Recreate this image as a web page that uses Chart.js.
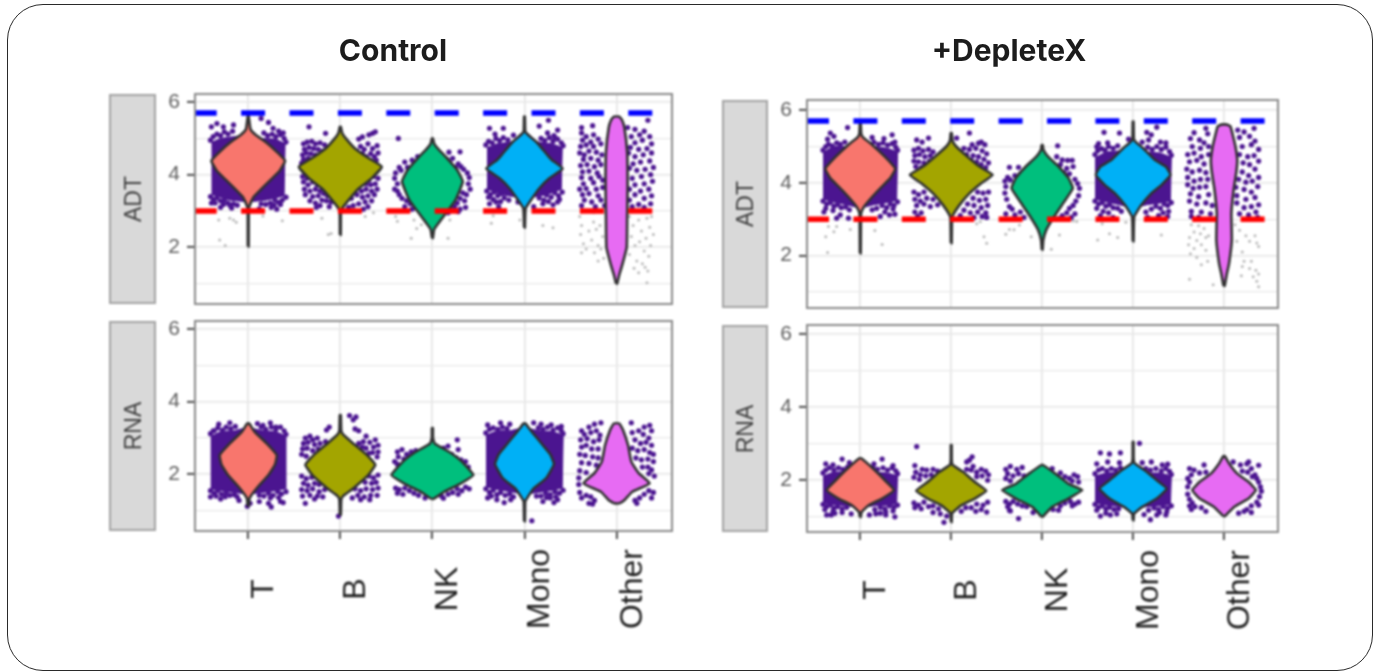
<!DOCTYPE html>
<html>
<head>
<meta charset="utf-8">
<title>Control vs +DepleteX</title>
<script src="https://cdn.jsdelivr.net/npm/chart.js@4"></script>
<style>
html, body { margin: 0; padding: 0; background: #fff; }
body { width: 1381px; height: 672px; position: relative; overflow: hidden; font-family: "Liberation Sans", sans-serif; }
#frame { position: absolute; left: 7px; top: 4px; width: 1364px; height: 665px; border: 1.5px solid #2a2a2a; border-radius: 36px; }
.title { position: absolute; top: 32px; width: 300px; text-align: center; font: 700 30px Inter, sans-serif; color: #1c1c1c; filter: blur(0.4px); }
.strip { position: absolute; box-sizing: border-box; background: #d9d9d9; border: 2px solid #a3a3a3; filter: blur(0.8px); }
.strip span { position: absolute; left: 50%; top: 50%; transform: translate(-50%, -50%) rotate(-90deg); font-size: 23px; color: #404040; }
canvas { position: absolute; filter: blur(0.8px); }
</style>
</head>
<body>
<div id="frame"></div>
<div class="title" style="left:243px">Control</div>
<div class="title" style="left:859px">+DepleteX</div>
<script>
const categories = ['T', 'B', 'NK', 'Mono', 'Other'];
const violinColors = ['#F8766D', '#A3A500', '#00BF7D', '#00B0F6', '#E76BF3'];
const yTicks = [1, 2, 3, 4, 5, 6];
const yLabelled = [2, 4, 6];
const xTicks = [1, 2, 3, 4, 5];
const upperCut = [5.7];
const lowerCut = [3];

// violin outlines: [y, half width]
const ctrlAdtT = [[2.02,.004],[3.07,.006],[3.21,.025],[3.39,.06],[3.6,.14],[3.85,.24],[4.1,.34],[4.38,.4],[4.63,.31],[4.9,.19],[5.1,.08],[5.25,.025],[5.62,.004]];
const ctrlAdtB = [[2.34,.004],[2.95,.006],[3.07,.02],[3.3,.09],[3.62,.2],[3.9,.34],[4.22,.45],[4.5,.28],[4.72,.16],[5,.06],[5.15,.02],[5.32,.005]];
const ctrlAdtNK = [[2.25,.004],[2.5,.02],[2.68,.07],[2.95,.15],[3.3,.25],[3.81,.33],[4.13,.27],[4.45,.16],[4.72,.06],[4.85,.02],[5,.005]];
const ctrlAdtMono = [[2.54,.004],[3.07,.012],[3.3,.07],[3.62,.16],[3.9,.27],[4.17,.415],[4.4,.3],[4.54,.25],[4.9,.13],[5.12,.03],[5.2,.008],[5.6,.004]];
const ctrlAdtOther = [[1,.006],[1.25,.03],[1.5,.06],[2,.11],[2.8,.115],[3.72,.12],[4.63,.115],[5.3,.085],[5.5,.06],[5.6,.03]];
const ctrlRnaT = [[1.13,.006],[1.34,.015],[1.61,.09],[1.98,.22],[2.26,.29],[2.53,.31],[2.85,.2],[3.17,.07],[3.4,.01]];
const ctrlRnaB = [[.88,.005],[1.3,.01],[1.4,.03],[1.61,.14],[1.94,.29],[2.26,.38],[2.53,.29],[2.85,.14],[3.1,.03],[3.2,.01],[3.63,.005]];
const ctrlRnaNK = [[1.32,.01],[1.52,.13],[1.75,.31],[1.98,.445],[2.35,.32],[2.62,.18],[2.85,.025],[3,.006],[3.27,.005]];
const ctrlRnaMono = [[.7,.004],[1.25,.008],[1.35,.03],[1.61,.1],[1.89,.235],[2.28,.32],[2.55,.28],[2.8,.2],[3.17,.08],[3.4,.01]];
const ctrlRnaOther = [[1.2,.03],[1.3,.09],[1.52,.17],[1.75,.36],[2.03,.24],[2.35,.16],[2.8,.125],[3.22,.07],[3.4,.03]];
const depAdtT = [[2.06,.004],[3.15,.008],[3.3,.03],[3.44,.07],[3.8,.2],[4.13,.33],[4.39,.385],[4.72,.27],[5.05,.13],[5.25,.03],[5.35,.01],[5.64,.004]];
const depAdtB = [[2.34,.004],[3,.008],[3.12,.02],[3.39,.09],[3.71,.2],[3.99,.33],[4.22,.455],[4.45,.31],[4.72,.18],[5,.055],[5.15,.015],[5.37,.005]];
const depAdtNK = [[2.16,.004],[2.43,.012],[2.71,.045],[3.03,.12],[3.44,.23],[3.85,.337],[4.13,.29],[4.45,.18],[4.72,.065],[4.9,.015],[5.04,.005]];
const depAdtMono = [[2.39,.004],[3.07,.012],[3.39,.09],[3.71,.2],[3.94,.31],[4.22,.41],[4.45,.36],[4.63,.24],[4.95,.11],[5.12,.03],[5.2,.008],[5.68,.004]];
const depAdtOther = [[1.17,.006],[1.5,.03],[1.79,.055],[2.43,.085],[3.17,.08],[3.81,.105],[4.3,.135],[4.63,.145],[5,.125],[5.37,.09],[5.55,.07],[5.6,.03]];
const depRnaT = [[.99,.004],[1.13,.015],[1.31,.09],[1.5,.24],[1.73,.37],[2,.27],[2.32,.14],[2.6,.01]];
const depRnaB = [[.85,.004],[1.1,.01],[1.31,.11],[1.5,.26],[1.71,.385],[1.95,.26],[2.23,.13],[2.42,.015],[2.55,.005],[2.96,.004]];
const depRnaNK = [[1,.006],[1.27,.11],[1.5,.29],[1.73,.44],[1.9,.29],[2.18,.145],[2.41,.012]];
const depRnaMono = [[.9,.004],[1.08,.01],[1.27,.1],[1.5,.26],[1.77,.37],[2,.26],[2.27,.13],[2.47,.015],[2.6,.005],[3.05,.004]];
const depRnaOther = [[1.02,.01],[1.27,.11],[1.5,.27],[1.73,.35],[1.95,.27],[2.18,.145],[2.46,.055],[2.66,.008]];

// solid part of the densest clouds: [offset from category, y]
const ctrlAdtTCore = [[-.39,3.45],[-.3,3.38],[-.2,3.3],[0,3.25],[.2,3.3],[.3,3.36],[.39,3.42],[.4,4.85],[.3,4.98],[.15,5],[0,5.1],[-.15,5.05],[-.3,5],[-.39,4.9]];
const ctrlAdtMonoCore = [[-.4,3.6],[-.3,3.5],[-.18,3.42],[0,3.35],[.18,3.42],[.3,3.5],[.4,3.6],[.41,4.75],[.3,4.85],[.15,4.9],[0,5],[-.15,4.9],[-.3,4.85],[-.4,4.75]];
const ctrlRnaTCore = [[-.4,1.6],[-.3,1.55],[-.15,1.5],[0,1.45],[.15,1.5],[.3,1.55],[.4,1.6],[.41,3.05],[.3,3.18],[.15,3.2],[0,3.3],[-.15,3.2],[-.3,3.18],[-.4,3.05]];
const ctrlRnaMonoCore = [[-.41,1.65],[-.3,1.58],[-.15,1.52],[0,1.45],[.15,1.5],[.3,1.56],[.41,1.62],[.42,3.08],[.3,3.18],[.15,3.2],[0,3.3],[-.15,3.2],[-.3,3.2],[-.41,3.08]];
const depAdtTCore = [[-.4,3.55],[-.3,3.48],[-.15,3.4],[0,3.3],[.15,3.4],[.3,3.46],[.4,3.52],[.41,4.85],[.3,4.95],[.15,5],[0,5.1],[-.15,5],[-.3,5],[-.4,4.85]];
const depAdtMonoCore = [[-.41,3.55],[-.3,3.48],[-.15,3.4],[0,3.3],[.15,3.4],[.3,3.45],[.41,3.5],[.42,4.7],[.3,4.82],[.15,4.85],[0,5],[-.15,4.88],[-.3,4.85],[-.41,4.7]];
const depRnaTCore = [[-.4,1.38],[-.3,1.34],[-.15,1.3],[0,1.25],[.15,1.3],[.3,1.32],[.4,1.36],[.41,2.12],[.3,2.2],[.15,2.22],[0,2.35],[-.15,2.24],[-.3,2.22],[-.4,2.12]];
const depRnaMonoCore = [[-.41,1.38],[-.3,1.32],[-.15,1.28],[0,1.22],[.15,1.28],[.3,1.3],[.41,1.34],[.42,2.12],[.3,2.2],[.15,2.2],[0,2.3],[-.15,2.22],[-.3,2.2],[-.41,2.12]];

// single cells: [offset from category, y]
const ctrlAdtTDots = [[-.4,5.32],[-.34,5.41],[.14,5.55],[.22,5.44],[-.16,5.37],[-.27,5.32],[.27,5.28],[.33,5.2],[-.4,3.22],[-.18,3.08],[.31,3.05],[.25,3.1],[-.3,3.1],[.12,3.06],[-.41,3.4],[-.38,3.32],[-.34,3.36],[-.3,3.28],[-.36,3.22],[-.26,3.3],[-.22,3.22],[-.27,3.18],[-.2,3.16],[-.16,3.2],[-.12,3.16],[.41,3.38],[.37,3.3],[.33,3.24],[.29,3.3],[.24,3.22],[.19,3.18],[.14,3.2],[.35,3.18],[.28,3.16],[-.41,4.95],[-.38,5.05],[-.34,5.12],[-.3,5.08],[-.26,5.18],[-.22,5.12],[-.17,5.2],[.17,5.15],[.21,5.08],[.26,5.12],[.3,5.05],[.35,5.1],[.39,5],[.41,4.9],[.38,5.15]];
const ctrlAdtTGrey = [[-.32,2.75],[-.2,2.8],[-.13,2.69],[.16,2.86],[.37,2.73],[-.31,2.2],[-.25,2.05],[-.16,2.75]];
const ctrlAdtBDots = [[-.34,5.32],[-.16,5.14],[.38,5.18],[.31,5.1],[.24,5.04],[.35,5.14],[.2,4.98],[-.4,4.85],[-.36,4.9],[-.31,4.92],[-.27,4.85],[-.22,4.88],[-.17,4.82],[-.39,4.7],[-.34,4.75],[-.29,4.72],[-.24,4.7],[-.19,4.65],[-.14,4.72],[-.41,4.55],[-.37,4.6],[-.32,4.58],[-.27,4.55],[-.22,4.52],[-.4,4.42],[-.35,4.45],[-.3,4.4],[-.42,4.32],[.4,4.8],[.35,4.72],[.3,4.85],[.26,4.7],[.22,4.78],[.18,4.65],[.41,4.6],[.37,4.5],[.33,4.58],[.28,4.5],[.24,4.58],[.39,4.4],[-.41,3.95],[-.36,3.9],[-.31,3.95],[-.4,3.8],[-.35,3.72],[-.3,3.8],[-.25,3.72],[-.39,3.6],[-.33,3.55],[-.27,3.6],[-.22,3.55],[-.38,3.45],[-.3,3.4],[-.24,3.42],[-.18,3.48],[-.14,3.42],[-.33,3.28],[-.27,3.22],[-.2,3.3],[-.15,3.28],[-.1,3.25],[-.22,3.15],[-.12,3.12],[-.26,3.1],[.41,3.9],[.36,3.95],[.31,3.85],[.38,3.75],[.33,3.72],[.28,3.75],[.4,3.6],[.34,3.55],[.28,3.6],[.23,3.55],[.37,3.45],[.3,3.42],[.24,3.38],[.18,3.45],[.12,3.35],[.34,3.28],[.27,3.25],[.2,3.2],[.14,3.15],[.3,3.12],[.25,3.05],[.09,3.1]];
const ctrlAdtBGrey = [[-.13,2.35],[-.1,2.38],[.27,2.85],[.36,2.95],[-.2,2.8]];
const ctrlAdtNKDots = [[-.37,5],[.18,4.62],[.3,4.63],[-.36,4.2],[-.3,4.35],[-.22,4.4],[-.16,4.5],[-.4,4.05],[-.34,4.12],[-.27,4.2],[-.2,4.28],[.16,4.42],[.22,4.45],[.28,4.3],[.34,4.15],[.38,4.05],[.4,3.92],[.25,4.2],[.31,4.22],[.19,4.33],[-.41,3.9],[-.38,3.75],[-.41,3.6],[-.36,3.45],[-.33,3.35],[-.28,3.28],[-.38,3.55],[-.24,3.2],[-.3,3.12],[-.22,3.05],[-.16,3.1],[-.12,2.98],[.39,3.75],[.41,3.6],[.37,3.45],[.33,3.5],[.3,3.35],[.35,3.28],[.27,3.22],[.24,3.12],[.3,3.05],[.19,3.05],[.36,3.1],[.28,2.98],[.17,2.95]];
const ctrlAdtNKGrey = [[-.4,2.85],[-.38,2.72],[-.2,2.75],[-.17,2.52],[-.23,2.25],[.17,2.25],[.19,2.75],[-.12,2.62]];
const ctrlAdtMonoDots = [[-.38,5.28],[-.23,5.28],[.16,5.34],[.26,5.5],[.36,5.23],[-.12,5.09],[-.32,5.12],[.25,5.15],[.32,5.08],[-.38,3.2],[-.31,3.25],[-.07,3.25],[.1,3.12],[.31,3.17],[.36,3.25],[-.28,3.12],[.2,3.2],[-.41,3.55],[-.37,3.45],[-.33,3.52],[-.39,3.38],[-.29,3.42],[-.25,3.48],[-.34,3.32],[-.22,3.36],[-.17,3.3],[-.26,3.26],[.41,3.52],[.37,3.42],[.33,3.5],[.29,3.38],[.24,3.44],[.38,3.32],[.21,3.3],[.16,3.36],[.26,3.26],[-.42,4.82],[-.39,4.92],[-.35,4.88],[-.31,5],[-.27,4.94],[-.23,5.02],[-.18,4.96],[.18,5],[.22,4.94],[.27,5.02],[.31,4.92],[.36,4.98],[.4,4.88],[.42,4.8],[.33,5.02]];
const ctrlAdtMonoGrey = [[-.34,2.87],[-.36,2.66],[-.05,2.75],[.2,2.6],[.31,2.54]];
const ctrlAdtOtherDots = [[-.38,5.3],[-.26,5.35],[-.38,5.15],[-.33,5.05],[-.25,5.1],[-.37,4.95],[-.28,4.9],[-.2,4.98],[-.39,4.78],[-.33,4.82],[-.25,4.78],[-.17,4.85],[-.4,4.6],[-.35,4.55],[-.3,4.65],[-.22,4.62],[-.16,4.55],[-.36,4.42],[-.28,4.45],[-.2,4.4],[-.39,4.25],[-.32,4.28],[-.24,4.22],[-.17,4.28],[-.37,4.08],[-.3,4.1],[-.21,4.05],[-.38,3.92],[-.28,3.9],[-.19,3.95],[-.15,3.85],[-.36,3.75],[-.25,3.78],[-.4,3.6],[-.33,3.62],[-.22,3.6],[-.15,3.65],[-.37,3.45],[-.3,3.48],[-.2,3.42],[-.35,3.3],[-.27,3.25],[-.17,3.3],[-.38,3.15],[-.23,3.12],[-.13,3.15],[.34,5.5],[.12,5.3],[.2,5.25],[.3,5.2],[.36,5.05],[.25,5.1],[.16,5.05],[.38,4.85],[.28,4.95],[.2,4.88],[.33,4.72],[.24,4.7],[.15,4.75],[.38,4.6],[.29,4.55],[.2,4.5],[.13,4.6],[.36,4.38],[.26,4.35],[.18,4.3],[.4,4.2],[.31,4.15],[.22,4.12],[.14,4.18],[.37,4],[.27,3.95],[.17,3.9],[.39,3.82],[.3,3.75],[.2,3.72],[.14,3.6],[.35,3.6],[.26,3.55],[.38,3.42],[.2,3.45],[.3,3.35],[.14,3.3],[.37,3.2],[.24,3.18],[.3,3.1],[.17,3.12]];
const ctrlAdtOtherGrey = [[-.4,2.85],[-.38,2.6],[-.39,2.35],[-.36,2.1],[-.33,1.95],[-.38,1.85],[-.3,2.45],[-.25,2.7],[-.22,2.5],[-.27,2.2],[-.2,2.05],[-.24,1.85],[-.18,2.6],[-.15,2.3],[-.17,1.95],[-.2,1.62],[-.14,1.7],[-.25,2.95],[.14,2.85],[.18,2.6],[.16,2.3],[.2,2.05],[.14,1.8],[.22,1.62],[.24,2.75],[.27,2.45],[.25,2.15],[.3,1.9],[.28,1.55],[.33,2.8],[.36,2.55],[.32,2.25],[.37,2.05],[.35,1.75],[.31,1.45],[.38,2.85],[.4,2.35],[.34,1.35],[.33,1.02],[.24,1.3],[.19,1.42]];
const depAdtTDots = [[-.33,5.37],[-.14,5.52],[.35,5.32],[-.29,5.28],[.13,5.25],[.26,5.22],[-.36,5.2],[-.26,3.03],[-.13,3.03],[-.4,3.2],[-.22,3.12],[.32,3.12],[.22,3.08],[.38,3.14],[-.41,3.5],[-.37,3.42],[-.33,3.46],[-.29,3.36],[-.38,3.3],[-.25,3.4],[-.21,3.32],[-.3,3.24],[-.16,3.34],[-.12,3.26],[.41,3.48],[.37,3.38],[.33,3.42],[.29,3.32],[.24,3.38],[.36,3.28],[.18,3.3],[.13,3.26],[.27,3.2],[-.41,4.9],[-.38,5],[-.35,5.06],[-.31,5.02],[-.26,5.1],[-.22,5.06],[-.17,5.12],[.15,5.12],[.2,5.06],[.25,5.1],[.3,5.04],[.35,5.08],[.39,4.98],[.41,4.9],[.38,5.12]];
const depAdtTGrey = [[-.35,2.8],[-.26,2.8],[-.38,2.52],[-.29,2.66],[-.11,2.72],[.16,2.69],[.24,2.31],[-.36,2.09]];
const depAdtBDots = [[-.38,5.18],[-.32,5.12],[-.25,5.23],[.2,5.37],[.06,5.23],[.23,5.05],[.3,5.09],[.37,5.05],[.33,5.12],[-.41,4.9],[-.36,4.95],[-.31,4.88],[-.25,4.92],[-.2,4.85],[-.4,4.75],[-.35,4.78],[-.29,4.72],[-.23,4.75],[-.17,4.68],[-.41,4.6],[-.36,4.58],[-.3,4.55],[-.24,4.6],[-.39,4.45],[-.33,4.42],[.14,4.95],[.2,4.92],[.27,4.95],[.34,4.88],[.39,4.8],[.17,4.78],[.24,4.75],[.3,4.72],[.36,4.65],[.41,4.55],[.22,4.62],[.28,4.58],[.33,4.5],[.38,4.42],[-.41,3.75],[-.36,3.68],[-.3,3.75],[-.4,3.55],[-.34,3.5],[-.27,3.58],[-.2,3.55],[-.38,3.38],[-.3,3.42],[-.23,3.35],[-.15,3.4],[-.4,3.2],[-.37,3.08],[-.33,3.18],[-.38,3],[.41,3.75],[.35,3.72],[.29,3.75],[.38,3.55],[.31,3.52],[.24,3.58],[.4,3.38],[.33,3.32],[.25,3.38],[.18,3.42],[.38,3.18],[.29,3.2],[.21,3.18],[.14,3.25],[.39,3.05],[.34,3.08],[.25,3.05],[.1,3.1]];
const depAdtBGrey = [[.32,2.93],[.36,2.52],[.39,2.34],[.28,2.88]];
const depAdtNKDots = [[.17,5.02],[-.36,4.43],[-.26,4.43],[.22,4.63],[.28,4.62],[.33,4.62],[.2,4.5],[.27,4.4],[.34,4.45],[.16,4.72],[-.17,4.35],[-.3,4.2],[-.38,4.15],[-.24,4.25],[.3,4.25],[.36,4.1],[.24,4.28],[.39,3.98],[.41,3.85],[-.41,4.05],[-.35,4.08],[-.4,3.9],[-.41,3.72],[-.39,3.55],[-.36,3.35],[-.4,3.15],[-.33,3.28],[-.3,3.12],[-.24,3.2],[-.2,3.05],[.4,3.65],[.37,3.5],[.34,3.38],[.3,3.3],[.36,3.15],[.27,3.18],[.32,3.05],[.22,3.1],[.18,3.02]];
const depAdtNKGrey = [[-.4,2.59],[-.31,2.71],[-.12,2.52],[.19,2.57],[.1,2.18],[.38,2.94],[-.25,2.84],[-.36,2.72],[.34,2.95]];
const depAdtMonoDots = [[-.32,5.39],[-.15,5.37],[.15,5.39],[.26,5.53],[.2,5.32],[-.28,5.1],[.17,5.18],[.3,5.12],[.36,5.1],[-.38,5.08],[-.05,5.2],[.1,5.12],[-.36,3.1],[-.22,3.05],[.16,3.05],[.28,3.1],[.38,3.08],[-.42,3.5],[-.38,3.42],[-.34,3.46],[-.3,3.36],[-.4,3.3],[-.26,3.4],[-.22,3.32],[-.33,3.22],[-.17,3.3],[-.27,3.18],[-.13,3.22],[.42,3.46],[.38,3.38],[.34,3.42],[.3,3.3],[.25,3.36],[.39,3.22],[.2,3.28],[.33,3.18],[.14,3.2],[-.42,4.78],[-.39,4.88],[-.35,4.94],[-.31,4.9],[-.27,5],[-.22,4.95],[-.17,5.02],[.16,4.98],[.21,4.92],[.26,5],[.31,4.92],[.36,4.98],[.4,4.86],[.42,4.76],[-.4,5]];
const depAdtMonoGrey = [[-.39,2.43],[-.26,2.6],[-.17,2.5],[.31,2.57],[-.34,2.88],[-.08,2.92]];
const depAdtOtherDots = [[-.33,5.38],[-.2,5.5],[-.18,5.35],[.15,5.45],[.33,5.5],[.22,5.4],[-.37,5.22],[-.27,5.18],[-.22,5.1],[-.35,5],[-.26,4.95],[-.17,5],[.17,5.25],[.28,5.28],[.34,5.15],[.3,5.05],[.2,5],[.38,4.92],[-.4,4.78],[-.33,4.82],[-.25,4.72],[-.17,4.78],[-.38,4.58],[-.3,4.62],[-.22,4.52],[.17,4.78],[.26,4.72],[.33,4.75],[.38,4.6],[.21,4.55],[.28,4.5],[-.41,4.38],[-.35,4.3],[-.27,4.35],[-.2,4.28],[.34,4.38],[.2,4.3],[.27,4.2],[.38,4.15],[-.4,4.15],[-.33,4.05],[-.26,4.1],[-.18,4.1],[.16,4.1],[.24,4.02],[.31,4.05],[.37,3.9],[-.4,3.95],[-.34,3.85],[-.27,3.88],[-.2,3.9],[.13,3.88],[.22,3.82],[.3,3.75],[-.37,3.7],[-.28,3.62],[-.17,3.68],[.14,3.65],[.24,3.55],[.34,3.6],[-.38,3.5],[-.3,3.42],[-.2,3.45],[-.13,3.38],[.14,3.45],[.22,3.32],[.3,3.35],[.38,3.4],[-.36,3.22],[-.25,3.2],[-.15,3.15],[.17,3.15],[.27,3.12],[.35,3.2],[-.36,3.08],[-.28,3.05],[.37,3.05]];
const depAdtOtherGrey = [[-.36,2.85],[-.28,2.82],[-.22,2.75],[-.33,2.65],[-.26,2.6],[-.38,2.5],[-.3,2.42],[-.2,2.5],[-.39,2.3],[-.33,2.2],[-.25,2.3],[-.37,2.05],[-.3,1.95],[-.2,2.15],[-.18,1.85],[-.25,1.75],[-.17,2.55],[-.38,1.35],[-.12,1.2],[.17,2.7],[.14,2.4],[.2,2.1],[.24,2.55],[.28,2.4],[.22,1.85],[.3,1.85],[.2,1.7],[.34,2.55],[.36,2.35],[.38,2.25],[.28,1.65],[.35,1.6],[.38,1.5],[.32,1.42],[.36,1.3],[.38,1.15],[.19,1.45],[.12,2.85]];
const ctrlRnaTDots = [[-.32,3.38],[-.2,3.42],[.1,3.4],[.24,3.42],[.3,3.3],[-.38,3.2],[.16,3.35],[-.41,1.38],[-.3,1.32],[.02,1.2],[.12,1.25],[.25,1.1],[.22,1.2],[.35,1.25],[.38,1.22],[-.1,1.28],[-.01,1.12],[-.41,1.55],[-.37,1.48],[-.33,1.55],[-.29,1.45],[-.35,1.4],[-.24,1.5],[-.2,1.42],[-.25,1.38],[-.15,1.44],[-.12,1.38],[.41,1.52],[.36,1.46],[.32,1.52],[.27,1.42],[.22,1.48],[.17,1.4],[.12,1.42],[.33,1.36],[.24,1.35],[-.41,3.12],[-.37,3.2],[-.33,3.28],[-.28,3.22],[-.24,3.3],[-.19,3.26],[-.14,3.32],[.14,3.3],[.19,3.24],[.25,3.3],[.3,3.24],[.35,3.3],[.39,3.2],[.41,3.1]];
const ctrlRnaBDots = [[.1,3.62],[.14,3.5],[.17,3.58],[-.15,3.22],[-.12,3.3],[.16,3.25],[.2,3.2],[.28,3.05],[-.38,3],[-.33,3.05],[-.3,2.95],[-.25,3],[-.4,2.85],[-.35,2.88],[-.28,2.82],[-.22,2.85],[-.16,2.9],[-.41,2.7],[-.36,2.72],[-.3,2.65],[-.24,2.7],[-.42,2.55],[-.37,2.5],[.2,2.85],[.25,2.9],[.32,2.88],[.38,2.95],[.41,2.8],[.36,2.75],[.28,2.72],[.24,2.75],[.41,2.62],[.35,2.6],[.31,2.58],[.4,2.48],[-.42,1.95],[-.37,1.88],[-.31,1.92],[-.4,1.75],[-.35,1.7],[-.28,1.75],[-.23,1.72],[-.42,1.58],[-.36,1.55],[-.3,1.6],[-.23,1.52],[-.17,1.58],[-.41,1.4],[-.33,1.42],[-.25,1.4],[-.19,1.38],[-.38,1.2],[-.28,1.32],[.41,1.98],[.36,1.9],[.31,1.95],[.39,1.78],[.34,1.75],[.27,1.78],[.41,1.62],[.35,1.58],[.28,1.6],[.22,1.55],[.16,1.6],[.4,1.42],[.33,1.42],[.26,1.38],[.19,1.42],[.13,1.35],[.32,1.3],[.22,1.3],[-.02,.85]];
const ctrlRnaNKDots = [[.27,2.95],[.17,2.78],[.28,2.68],[.12,2.72],[-.38,2.62],[-.33,2.68],[-.28,2.55],[-.23,2.62],[-.18,2.65],[-.37,2.48],[-.31,2.42],[-.25,2.48],[.21,2.55],[.26,2.45],[.31,2.4],[.36,2.35],[.33,2.3],[-.41,2.35],[-.38,2.28],[-.34,2.22],[.39,2.2],[-.4,1.62],[-.36,1.58],[-.3,1.62],[-.25,1.55],[-.38,1.48],[-.32,1.45],[-.2,1.48],[-.15,1.42],[.4,1.6],[.36,1.65],[.32,1.55],[.27,1.6],[.22,1.5],[.28,1.45],[.17,1.45],[.1,1.4],[-.08,1.35],[.12,1.34]];
const ctrlRnaMonoDots = [[-.4,3.36],[-.26,3.42],[-.16,3.38],[.1,3.42],[.29,3.36],[.4,3.32],[.18,3.38],[-.4,1.35],[-.3,1.3],[-.15,1.3],[.2,1.25],[.32,1.22],[.28,1.35],[.36,1.3],[.08,.72],[-.22,1.22],[-.42,1.6],[-.38,1.5],[-.34,1.56],[-.3,1.44],[-.36,1.4],[-.26,1.5],[-.21,1.42],[-.16,1.46],[-.12,1.38],[.42,1.56],[.38,1.48],[.33,1.52],[.28,1.44],[.23,1.48],[.18,1.4],[.13,1.4],[.34,1.38],[.24,1.36],[-.42,3.14],[-.38,3.24],[-.34,3.28],[-.29,3.24],[-.24,3.3],[-.19,3.26],[.15,3.28],[.2,3.24],[.25,3.3],[.31,3.22],[.36,3.28],[.4,3.2],[.42,3.12]];
const ctrlRnaOtherDots = [[-.24,3.38],[-.17,3.42],[.16,3.42],[.3,3.3],[.36,3.35],[.38,3.2],[-.3,3.3],[-.38,3.2],[-.35,3.1],[-.28,3.15],[-.22,3.2],[-.18,3.08],[.17,3.15],[.24,3.2],[.29,3.1],[.35,3],[-.39,2.95],[-.32,2.98],[-.25,2.9],[-.19,2.95],[.2,2.95],[.26,2.85],[.32,2.88],[.38,2.8],[-.38,2.75],[-.33,2.8],[-.27,2.7],[-.2,2.7],[.17,2.72],[.23,2.65],[.3,2.68],[.36,2.6],[.4,2.55],[-.4,2.55],[-.34,2.52],[-.26,2.48],[-.2,2.45],[.21,2.45],[.27,2.4],[.34,2.42],[.4,2.35],[-.38,2.32],[-.3,2.3],[-.22,2.25],[.28,2.2],[.34,2.2],[.38,2.12],[-.4,2.1],[-.33,2.05],[-.41,1.9],[.35,2.02],[-.41,1.72],[.41,1.95],[-.4,1.5],[-.33,1.42],[-.38,1.35],[-.28,1.38],[-.24,1.28],[-.26,1.18],[-.3,1.2],[.2,1.28],[.25,1.35],[.22,1.2],[.38,1.35],[.3,1.45],[.35,1.55],[.4,1.5]];
const depRnaTDots = [[-.38,2.45],[-.2,2.58],[-.12,2.48],[.24,2.58],[.36,2.4],[.15,2.45],[-.3,2.42],[-.32,1.05],[-.37,1.05],[-.2,1.12],[-.1,1.08],[.1,1.05],[.22,1.1],[.28,1.05],[.38,1],[.17,1.08],[-.28,1.1],[-.41,1.34],[-.37,1.28],[-.33,1.32],[-.29,1.24],[-.39,1.2],[-.25,1.28],[-.2,1.22],[-.15,1.26],[-.3,1.16],[.41,1.32],[.37,1.26],[.32,1.3],[.27,1.22],[.22,1.26],[.36,1.16],[.16,1.2],[.28,1.14],[-.41,2.2],[-.38,2.28],[-.34,2.34],[-.29,2.28],[-.24,2.34],[-.19,2.3],[-.14,2.36],[.14,2.36],[.19,2.3],[.25,2.34],[.3,2.28],[.35,2.34],[.39,2.26],[.41,2.18]];
const depRnaBDots = [[-.38,2.92],[.23,2.64],[.17,2.5],[.2,2.55],[-.08,.85],[.39,1.13],[-.4,2.4],[-.32,2.3],[-.27,2.28],[-.2,2.3],[-.15,2.25],[-.39,2.22],[-.34,2.15],[-.28,2.12],[-.22,2.15],[-.41,2.08],[-.35,2.02],[.17,2.3],[.22,2.28],[.28,2.22],[.33,2.3],[.38,2.25],[.41,2.15],[.34,2.12],[.28,2.1],[.4,2],[.24,2.38],[-.41,1.38],[-.36,1.32],[-.3,1.4],[-.25,1.28],[-.4,1.25],[-.33,1.22],[-.2,1.3],[-.14,1.22],[-.2,1.12],[-.12,1.08],[.4,1.4],[.35,1.32],[.28,1.35],[.22,1.25],[.33,1.2],[.16,1.25],[.27,1.15],[.11,1.15],[-.05,1.02]];
const depRnaNKDots = [[-.26,.95],[-.35,1.16],[-.4,2.3],[-.35,2.38],[-.28,2.3],[-.22,2.35],[-.38,2.18],[-.32,2.12],[-.26,2.18],[-.2,2.12],[-.4,2.05],[-.35,1.98],[.2,2.2],[.25,2.1],[.3,2.05],[.35,2.15],[.39,2.1],[.33,1.98],[.4,1.95],[.11,2.32],[-.4,1.42],[-.36,1.35],[-.32,1.42],[-.38,1.28],[-.27,1.35],[-.22,1.3],[-.17,1.28],[-.36,1.18],[.4,1.4],[.36,1.35],[.31,1.42],[.25,1.38],[.2,1.3],[.12,1.2],[.33,1.3],[.18,1.18],[-.1,1.12]];
const depRnaMonoDots = [[-.36,2.75],[-.26,2.72],[-.14,2.75],[.07,3.01],[.19,.92],[-.4,2.45],[-.28,2.5],[-.15,2.48],[.1,2.48],[.2,2.5],[.32,2.42],[.38,2.44],[-.36,1.02],[-.25,1.05],[-.18,1.08],[.12,1.06],[.26,1.05],[.36,1.05],[-.3,1.1],[-.42,1.34],[-.38,1.26],[-.34,1.3],[-.3,1.22],[-.4,1.18],[-.26,1.26],[-.21,1.2],[-.16,1.22],[.42,1.3],[.38,1.24],[.33,1.28],[.28,1.2],[.23,1.24],[.37,1.14],[.17,1.18],[.29,1.12],[-.42,2.18],[-.38,2.28],[-.34,2.32],[-.29,2.26],[-.24,2.32],[-.19,2.28],[-.14,2.34],[.14,2.32],[.19,2.28],[.25,2.32],[.31,2.26],[.36,2.32],[.4,2.24],[.42,2.16]];
const depRnaOtherDots = [[.38,2.41],[.25,2.45],[.18,2.42],[.27,2.5],[-.38,2.32],[-.33,2.28],[-.22,2.42],[-.27,2.2],[-.36,2.15],[-.2,2.22],[.1,2.5],[.2,2.25],[.26,2.22],[.3,2.32],[.34,2.15],[.31,2.1],[.36,2.05],[-.4,2.05],[-.38,1.95],[.38,1.95],[.4,1.82],[-.4,1.82],[.41,1.7],[.39,1.55],[-.4,1.62],[-.38,1.48],[-.35,1.38],[-.38,1.3],[-.32,1.28],[-.36,1.2],[-.25,1.25],[.25,1.2],[.3,1.3],[.36,1.4],[.38,1.32],[.22,1.15],[.16,1.1],[.3,1.12],[-.2,1.15]];

const panels = [
    { id: 'adtCtrl', strip: 'ADT', stripX: 109, stripW: 47, box: { left: 195, top: 94, w: 477, h: 210 }, x: [.422, 5.602], y: [.438, 6.223], dashOffset: 2.3,
      violins: [ctrlAdtT, ctrlAdtB, ctrlAdtNK, ctrlAdtMono, ctrlAdtOther],
      cores: { 0: ctrlAdtTCore, 3: ctrlAdtMonoCore },
      dots: [ctrlAdtTDots, ctrlAdtBDots, ctrlAdtNKDots, ctrlAdtMonoDots, ctrlAdtOtherDots],
      grey: [ctrlAdtTGrey, ctrlAdtBGrey, ctrlAdtNKGrey, ctrlAdtMonoGrey, ctrlAdtOtherGrey] },
    { id: 'rnaCtrl', strip: 'RNA', stripX: 109, stripW: 47, box: { left: 195, top: 321, w: 477, h: 210 }, x: [.422, 5.602], y: [.438, 6.223], labels: true,
      violins: [ctrlRnaT, ctrlRnaB, ctrlRnaNK, ctrlRnaMono, ctrlRnaOther],
      cores: { 0: ctrlRnaTCore, 3: ctrlRnaMonoCore },
      dots: [ctrlRnaTDots, ctrlRnaBDots, ctrlRnaNKDots, ctrlRnaMonoDots, ctrlRnaOtherDots], grey: [] },
    { id: 'adtDep', strip: 'ADT', stripX: 722, stripW: 46, box: { left: 807, top: 100, w: 471, h: 208 }, x: [.414, 5.593], y: [.563, 6.277], dashOffset: 2,
      violins: [depAdtT, depAdtB, depAdtNK, depAdtMono, depAdtOther],
      cores: { 0: depAdtTCore, 3: depAdtMonoCore },
      dots: [depAdtTDots, depAdtBDots, depAdtNKDots, depAdtMonoDots, depAdtOtherDots],
      grey: [depAdtTGrey, depAdtBGrey, depAdtNKGrey, depAdtMonoGrey, depAdtOtherGrey] },
    { id: 'rnaDep', strip: 'RNA', stripX: 722, stripW: 46, box: { left: 807, top: 325, w: 471, h: 207 }, x: [.414, 5.593], y: [.584, 6.247], labels: true,
      violins: [depRnaT, depRnaB, depRnaNK, depRnaMono, depRnaOther],
      cores: { 0: depRnaTCore, 3: depRnaMonoCore },
      dots: [depRnaTDots, depRnaBDots, depRnaNKDots, depRnaMonoDots, depRnaOtherDots], grey: [] }
];

let violinOutline = function (rows, pos) {
    let left = rows.map(function (r) { return { x: pos - r[1], y: r[0] }; });
    let right = rows.slice().reverse().map(function (r) { return { x: pos + r[1], y: r[0] }; });
    let pts = left.concat(right);
    pts.push(pts[0]);
    return pts;
};

let shift = function (rows, pos) {
    return rows.map(function (r) { return { x: pos + r[0], y: r[1] }; });
};

// panel border goes over everything, like theme_bw
let borderPlugin = {
    id: 'panelBorder',
    afterDraw: function (chart) {
        let a = chart.chartArea, ctx = chart.ctx;
        ctx.save();
        ctx.strokeStyle = '#8a8a8a';
        ctx.lineWidth = 2;
        ctx.strokeRect(a.left, a.top, a.right - a.left, a.bottom - a.top);
        ctx.restore();
    }
};

// chart.js only right-aligns rotated ticks, these are centred
let xLabelPlugin = {
    id: 'xLabels',
    afterDraw: function (chart) {
        let ctx = chart.ctx, sx = chart.scales.x;
        ctx.save();
        ctx.font = '32px "Liberation Sans"';
        ctx.fillStyle = '#1f1f1f';
        ctx.textAlign = 'center';
        categories.forEach(function (name, i) {
            ctx.save();
            ctx.translate(sx.getPixelForValue(i + 1) + 25, chart.chartArea.bottom + 58);
            ctx.rotate(-Math.PI / 2);
            ctx.fillText(name, 0, 0);
            ctx.restore();
        });
        ctx.restore();
    }
};

let drawPanel = function (p) {
    let below = p.labels ? 110 : 10;
    let canvas = document.createElement('canvas');
    canvas.id = p.id;
    canvas.width = p.box.w + 55;
    canvas.height = p.box.h + 10 + below;
    canvas.style.left = (p.box.left - 45) + 'px';
    canvas.style.top = (p.box.top - 10) + 'px';
    document.body.appendChild(canvas);

    let strip = document.createElement('div');
    strip.className = 'strip';
    strip.style.cssText = 'left:' + p.stripX + 'px;top:' + p.box.top + 'px;width:' + p.stripW + 'px;height:' + p.box.h + 'px';
    strip.innerHTML = '<span>' + p.strip + '</span>';
    document.body.appendChild(strip);

    let datasets = [];
    if (!p.labels) {
        let hline = function (vals, color) {
            return {
                data: [{ x: p.x[0], y: vals[0] }, { x: p.x[1], y: vals[0] }],
                showLine: true, borderColor: color, borderWidth: 5.5, borderDash: [24, 24.4], borderDashOffset: p.dashOffset,
                pointRadius: 0, order: 0
            };
        };
        datasets.push(hline(upperCut, '#0000ff'));
        datasets.push(hline(lowerCut, '#ff0000'));
    }
    p.violins.forEach(function (rows, i) {
        datasets.push({
            data: violinOutline(rows, i + 1), showLine: true, fill: 'shape', backgroundColor: violinColors[i],
            borderColor: '#303030', borderWidth: 2.6, tension: 0.12, pointRadius: 0, order: 1
        });
    });
    p.dots.forEach(function (rows, i) {
        datasets.push({ data: shift(rows, i + 1), pointRadius: 2.6, borderWidth: 0, backgroundColor: '#4b1590', order: 2 });
    });
    Object.keys(p.cores).forEach(function (k) {
        let pts = shift(p.cores[k], Number(k) + 1);
        pts.push(pts[0]);
        datasets.push({ data: pts, showLine: true, fill: 'shape', backgroundColor: '#4b1590', borderColor: '#4b1590', borderWidth: 1, pointRadius: 0, order: 3 });
    });
    p.grey.forEach(function (rows, i) {
        datasets.push({ data: shift(rows, i + 1), pointRadius: 1.5, borderWidth: 0, backgroundColor: '#b8b8b8', order: 4 });
    });

    new Chart(canvas.getContext('2d'), {
        type: 'scatter',
        data: { datasets: datasets },
        options: {
            responsive: false,
            animation: false,
            layout: { padding: { left: 0, top: 10, right: 10, bottom: 0 } },
            plugins: { legend: { display: false }, tooltip: { enabled: false } },
            scales: {
                x: {
                    type: 'linear', min: p.x[0], max: p.x[1],
                    afterBuildTicks: function (s) { s.ticks = xTicks.map(function (v) { return { value: v }; }); },
                    afterFit: function (s) { s.height = below; s.paddingLeft = 0; s.paddingRight = 0; },
                    ticks: { display: false },
                    border: { display: false },
                    grid: { color: '#e6e6e6', lineWidth: 1.8, drawTicks: !!p.labels, tickLength: 8, tickColor: '#4a4a4a', tickWidth: 2 }
                },
                y: {
                    min: p.y[0], max: p.y[1],
                    afterBuildTicks: function (s) { s.ticks = yTicks.map(function (v) { return { value: v }; }); },
                    afterFit: function (s) { s.width = 45; s.paddingTop = 0; s.paddingBottom = 0; },
                    border: { display: false },
                    ticks: {
                        padding: 7, color: '#5c5c5c', font: { family: '"Liberation Sans"', size: 21 },
                        autoSkip: false,
                        callback: function (v) { return yLabelled.includes(v) ? String(v) : ''; }
                    },
                    grid: {
                        tickLength: 8, tickWidth: 2,
                        color: '#e8e8e8',
                        lineWidth: function (c) { return c.tick && yLabelled.includes(c.tick.value) ? 1.8 : 1.2; },
                        tickColor: function (c) { return c.tick && yLabelled.includes(c.tick.value) ? '#4a4a4a' : 'transparent'; }
                    }
                }
            }
        },
        plugins: p.labels ? [borderPlugin, xLabelPlugin] : [borderPlugin]
    });
};

panels.forEach(drawPanel);
</script>
</body>
</html>
